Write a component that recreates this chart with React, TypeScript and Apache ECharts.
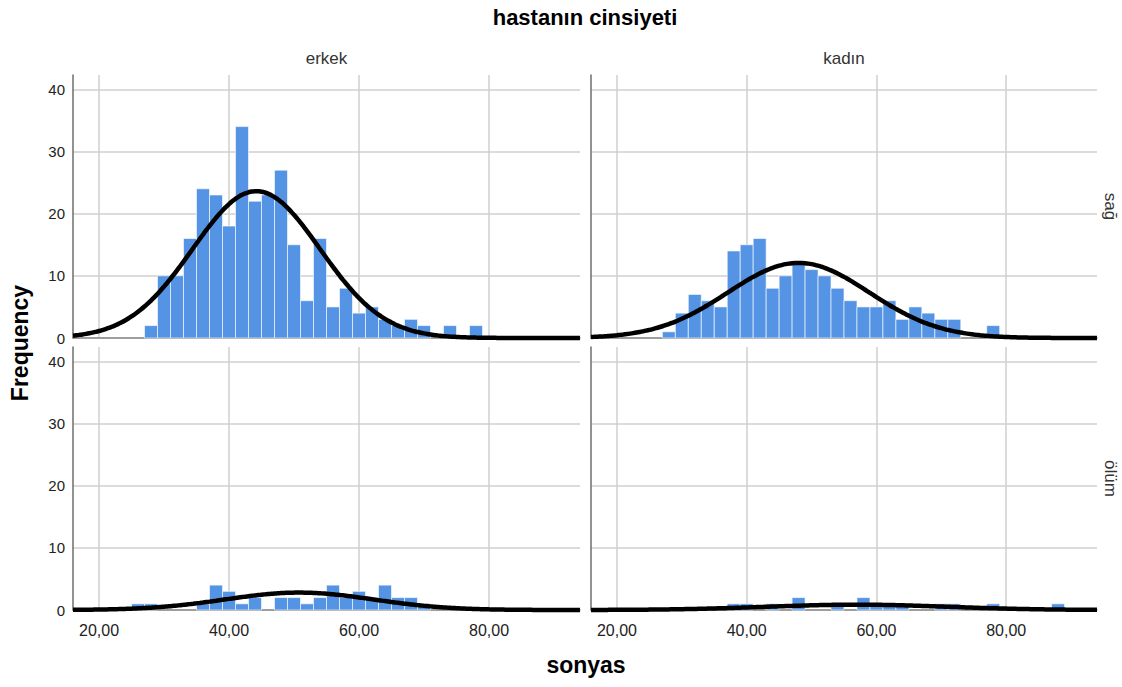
import React, { useEffect, useRef } from "react";
import * as echarts from "echarts";

// Histogram bins (start of each 2-unit bin)
const binStarts = [25, 27, 29, 31, 33, 35, 37, 39, 41, 43, 45, 47, 49, 51, 53, 55, 57, 59, 61, 63, 65, 67, 69, 71, 73, 75, 77, 79, 81, 83, 85, 87];
const binWidth = 2;

// Counts per panel (row: sağ / ölüm, column: erkek / kadın)
const erkekSag = [0, 2, 10, 10, 16, 24, 23, 18, 34, 22, 23, 27, 15, 6, 16, 5, 8, 4, 5, 3, 2, 3, 2, 0, 2, 0, 2, 0, 0, 0, 0, 0];
const kadinSag = [0, 1, 4, 7, 6, 5, 14, 15, 16, 8, 10, 12, 11, 10, 8, 6, 5, 5, 6, 3, 5, 4, 3, 3, 0, 0, 2, 0, 0, 0, 0, 0];
const erkekOlum = [1, 1, 0, 0, 0, 1, 4, 3, 1, 2, 0, 2, 2, 1, 2, 4, 2, 3, 2, 4, 2, 2, 1, 0, 0, 0, 0, 0, 0, 0, 0, 0];
const kadinOlum = [0, 0, 0, 0, 0, 0, 1, 1, 0, 1, 0, 2, 0, 0, 1, 0, 2, 1, 1, 1, 0, 0, 1, 1, 0, 0, 1, 0, 0, 0, 0, 1];

// Normal curve parameters: [mean, sd, n]
const fitErkekSag = [44.2, 9.8, 290];
const fitKadinSag = [48.0, 10.9, 165];
const fitErkekOlum = [50.8, 11.4, 40];
const fitKadinOlum = [57.0, 14.0, 15];

const columnLabels = ["erkek", "kadın"];
const rowLabels = ["sağ", "ölüm"];
const xTicks = [20, 40, 60, 80];
const yTicks = [0, 10, 20, 30, 40];
const xMin = 16;
const xMax = 94;
const yMax = 42.3;

const panels = [
  { counts: erkekSag, fit: fitErkekSag },
  { counts: kadinSag, fit: fitKadinSag },
  { counts: erkekOlum, fit: fitErkekOlum },
  { counts: kadinOlum, fit: fitKadinOlum },
];

const gridBoxes = [
  { left: 73, top: 75, width: 507, height: 263 },
  { left: 591, top: 75, width: 506, height: 263 },
  { left: 73, top: 347, width: 507, height: 263 },
  { left: 591, top: 347, width: 506, height: 263 },
];

function curvePoints(fit: number[]) {
  const [mean, sd, n] = fit;
  const pts: number[][] = [];
  for (let x = xMin; x <= xMax + 1e-9; x += 0.5) {
    const z = (x - mean) / sd;
    const y = (n * binWidth * Math.exp(-0.5 * z * z)) / (sd * Math.sqrt(2 * Math.PI));
    pts.push([x, y]);
  }
  return pts;
}

const fmtX = (v: number) => v.toFixed(2).replace(".", ",");

export default function App() {
  const ref = useRef<HTMLDivElement>(null);
  useEffect(() => {
    document.body.style.margin = "0";
    if (!ref.current) return;
    const chart = echarts.init(ref.current, undefined, { renderer: "svg" });
    const font = "Arial, 'Liberation Sans', sans-serif";

    const grids = gridBoxes.map((g) => ({ ...g, containLabel: false }));
    const xAxes = gridBoxes.map((_, i) => ({
      type: "value",
      gridIndex: i,
      min: xMin,
      max: xMax,
      axisLine: { show: true, onZero: false, lineStyle: { color: "#8a8a8a", width: 1.5 } },
      axisTick: { show: false, customValues: xTicks },
      axisLabel: {
        show: i >= 2,
        customValues: xTicks,
        formatter: (v: number) => fmtX(v),
        color: "#222",
        fontSize: 16,
        fontFamily: font,
        margin: 12,
      },
      splitLine: { show: true, lineStyle: { color: "#cfcfcf", width: 1.5 } },
    }));
    const yAxes = gridBoxes.map((_, i) => ({
      type: "value",
      gridIndex: i,
      min: 0,
      max: yMax,
      axisLine: { show: true, lineStyle: { color: "#6e6e6e", width: 1.5 } },
      axisTick: { show: false, customValues: yTicks },
      axisLabel: {
        show: i % 2 === 0,
        customValues: yTicks,
        color: "#222",
        fontSize: 15,
        fontFamily: font,
        margin: 8,
      },
      splitLine: { show: true, lineStyle: { color: "#cfcfcf", width: 1.5 } },
    }));

    const series: any[] = [];
    panels.forEach((p, i) => {
      const data = binStarts
        .map((b, k) => [b, b + binWidth, p.counts[k]])
        .filter((d) => d[2] > 0);
      series.push({
        type: "custom",
        xAxisIndex: i,
        yAxisIndex: i,
        data,
        encode: { x: [0, 1], y: 2 },
        z: 2,
        renderItem: (_params: any, api: any) => {
          const p0 = api.coord([api.value(0), api.value(2)]);
          const p1 = api.coord([api.value(1), 0]);
          return {
            type: "rect",
            shape: { x: p0[0], y: p0[1], width: p1[0] - p0[0], height: p1[1] - p0[1] },
            style: { fill: "#5594e4", stroke: "rgba(255,255,255,0.6)", lineWidth: 1 },
          };
        },
      });
      series.push({
        type: "line",
        xAxisIndex: i,
        yAxisIndex: i,
        data: curvePoints(p.fit),
        showSymbol: false,
        smooth: true,
        clip: false,
        z: 5,
        lineStyle: { color: "#000", width: 4.5 },
      });
    });

    const graphics: any[] = [
      {
        type: "text",
        x: 585,
        y: 17,
        style: { text: "hastanın cinsiyeti", font: `bold 22px ${font}`, fill: "#000", textAlign: "center", textVerticalAlign: "middle" },
      },
      {
        type: "text",
        x: 20,
        y: 343,
        rotation: Math.PI / 2,
        style: { text: "Frequency", font: `bold 23px ${font}`, fill: "#000", textAlign: "center", textVerticalAlign: "middle" },
      },
      {
        type: "text",
        x: 586,
        y: 665,
        style: { text: "sonyas", font: `bold 23px ${font}`, fill: "#000", textAlign: "center", textVerticalAlign: "middle" },
      },
    ];
    columnLabels.forEach((t, c) => {
      const g = gridBoxes[c];
      graphics.push({
        type: "text",
        x: g.left + g.width / 2,
        y: 58,
        style: { text: t, font: `17px ${font}`, fill: "#333", textAlign: "center", textVerticalAlign: "middle" },
      });
    });
    rowLabels.forEach((t, r) => {
      const g = gridBoxes[r * 2];
      graphics.push({
        type: "text",
        x: 1110,
        y: g.top + g.height / 2,
        rotation: -Math.PI / 2,
        style: { text: t, font: `17px ${font}`, fill: "#333", textAlign: "center", textVerticalAlign: "middle" },
      });
    });

    chart.setOption({
      animation: false,
      backgroundColor: "#fff",
      grid: grids,
      xAxis: xAxes,
      yAxis: yAxes,
      series,
      graphic: graphics,
    });
    return () => chart.dispose();
  }, []);
  return <div ref={ref} style={{ width: 1122, height: 687 }} />;
}
